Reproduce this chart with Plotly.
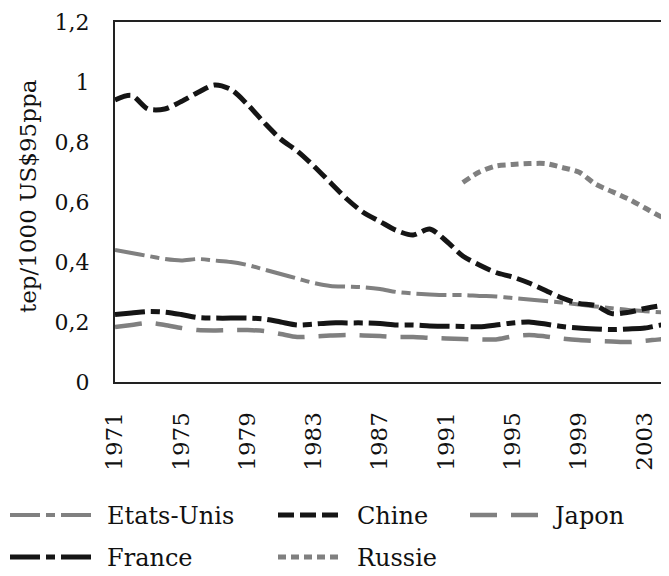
import plotly.graph_objects as go

years = list(range(1971, 2006))

etats_unis = [0.44, 0.43, 0.42, 0.41, 0.405, 0.41, 0.405, 0.40, 0.39, 0.375,
              0.36, 0.345, 0.33, 0.32, 0.318, 0.316, 0.31, 0.30, 0.295, 0.292,
              0.29, 0.29, 0.287, 0.285, 0.28, 0.275, 0.27, 0.265, 0.258, 0.252,
              0.246, 0.24, 0.236, 0.232, 0.228]
chine = [0.94, 0.955, 0.91, 0.91, 0.935, 0.965, 0.99, 0.975, 0.925, 0.865,
         0.81, 0.77, 0.72, 0.665, 0.61, 0.565, 0.535, 0.505, 0.49, 0.51,
         0.47, 0.42, 0.39, 0.365, 0.35, 0.33, 0.305, 0.28, 0.262, 0.255,
         0.228, 0.232, 0.245, 0.255, 0.26]
japon = [0.183, 0.19, 0.197, 0.19, 0.18, 0.173, 0.172, 0.173, 0.173, 0.17,
         0.16, 0.15, 0.152, 0.155, 0.157, 0.155, 0.153, 0.15, 0.15, 0.147,
         0.145, 0.143, 0.142, 0.142, 0.152, 0.157, 0.152, 0.145, 0.14, 0.137,
         0.135, 0.133, 0.137, 0.143, 0.145]
france = [0.225, 0.23, 0.235, 0.233, 0.225, 0.215, 0.213, 0.213, 0.213, 0.21,
          0.20, 0.19, 0.193, 0.197, 0.197, 0.197, 0.195, 0.19, 0.19, 0.187,
          0.186, 0.185, 0.184, 0.19, 0.197, 0.20, 0.193, 0.185, 0.18, 0.177,
          0.175, 0.177, 0.18, 0.19, 0.19]
russie = [None] * 21 + [0.665, 0.70, 0.72, 0.725, 0.728, 0.728, 0.715, 0.70,
                        0.66, 0.635, 0.61, 0.58, 0.55, 0.53]

x_ticks = list(range(1971, 2004, 4))
y_ticks = [0, 0.2, 0.4, 0.6, 0.8, 1.0, 1.2]
y_tick_text = ["0", "0,2", "0,4", "0,6", "0,8", "1", "1,2"]

GRAY = "#808080"
BLACK = "#151515"
FONT = "DejaVu Serif"

series = [
    ("Etats-Unis", etats_unis, GRAY, 4, "30px,6px,9px,6px"),
    ("Chine", chine, BLACK, 5, "16px,6px"),
    ("Japon", japon, GRAY, 4.5, "27px,14px"),
    ("France", france, BLACK, 5, "30px,6px,9px,6px"),
    ("Russie", russie, GRAY, 5, "8px,5px"),
]

fig = go.Figure()
for name, vals, col, w, dash in series:
    fig.add_trace(go.Scatter(
        x=years, y=vals, name=name, mode="lines",
        line=dict(color=col, width=w, dash=dash, shape="spline", smoothing=0.8),
        connectgaps=False, showlegend=False, cliponaxis=True,
    ))

# page body has an 8px margin; figure sized to end at the window edges
OFF = 8
W, H = 669 - OFF, 576 - OFF
L_SCR, T_SCR, B_SCR = 115, 22, 382          # plot area in screen px
L, T = L_SCR - OFF, T_SCR - OFF
B = H - (B_SCR - OFF)
PW = W - L
PH = H - T - B


def px(xs):
    return (xs - L_SCR) / PW


def py(ys):
    return (B_SCR - ys) / PH


# manual legend (long line samples as in the reference)
legend_items = [
    ("Etats-Unis", 10, 97, 105, 515),
    ("Chine", 278, 338, 355, 515),
    ("Japon", 470, 542, 550, 515),
    ("France", 10, 95, 105, 557),
    ("Russie", 278, 338, 355, 557),
]
style = {s[0]: s for s in series}
shapes = []
annotations = []
for name, x0, x1, xt, yc in legend_items:
    _, _, col, w, dash = style[name]
    shapes.append(dict(type="line", xref="paper", yref="paper",
                       x0=px(x0), x1=px(x1), y0=py(yc), y1=py(yc),
                       line=dict(color=col, width=w, dash=dash)))
    annotations.append(dict(text=name, xref="paper", yref="paper",
                            x=px(xt), y=py(yc + 1), xanchor="left", yanchor="middle",
                            showarrow=False,
                            font=dict(family=FONT, size=24, color="#111")))

annotations.append(dict(text="tep/1000 US$95ppa", xref="paper", yref="paper",
                        x=px(28), y=py(196), textangle=-90, xanchor="center",
                        yanchor="middle", showarrow=False,
                        font=dict(family=FONT, size=23, color="#111")))

fig.update_layout(
    width=W, height=H,
    margin=dict(l=L, r=0, t=T, b=B, pad=0),
    plot_bgcolor="white", paper_bgcolor="white",
    showlegend=False,
    shapes=shapes, annotations=annotations,
    xaxis=dict(range=[1971, 2004.45], tickvals=x_ticks, tickangle=-90,
               showgrid=False, zeroline=False, showline=True, mirror=True,
               linecolor="#222", linewidth=2, ticks="", ticklabelstandoff=19,
               tickfont=dict(family=FONT, size=23, color="#111")),
    yaxis=dict(range=[0, 1.2], tickvals=y_ticks, ticktext=y_tick_text,
               showgrid=False, zeroline=False, showline=True,
               linecolor="#222", linewidth=2, ticks="", ticklabelstandoff=19,
               tickfont=dict(family=FONT, size=22, color="#111")),
)

fig.write_html("out.html")
